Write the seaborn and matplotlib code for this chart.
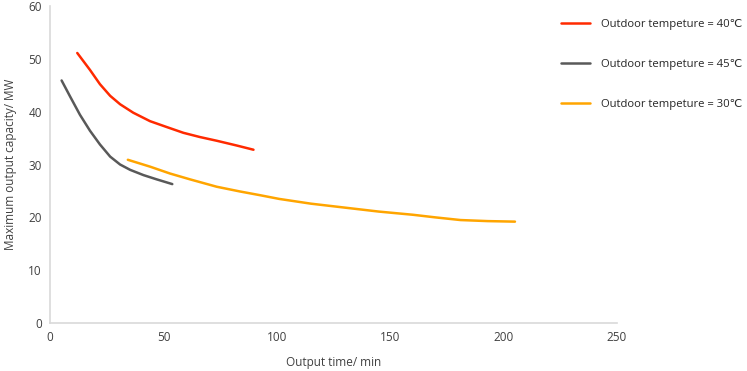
import pandas as pd
import matplotlib
matplotlib.use("Agg")
import matplotlib.pyplot as plt
import seaborn as sns

## Data
t40 = [12.0, 17.6, 22.0, 26.5, 30.9, 36.7, 44.1, 51.4, 58.8, 66.1, 73.5, 82.3, 89.7]
p40 = [51.1, 47.9, 45.2, 43.0, 41.4, 39.8, 38.2, 37.1, 36.0, 35.2, 34.5, 33.6, 32.8]

t45 = [5.1, 8.8, 13.2, 17.6, 22.0, 26.5, 30.9, 35.3, 41.2, 47.0, 53.9]
p45 = [45.9, 42.9, 39.4, 36.4, 33.8, 31.5, 30.0, 29.0, 28.0, 27.2, 26.3]

t30 = [34.3, 44.1, 52.9, 61.7, 73.5, 83.8, 92.6, 101, 115, 131, 145, 160, 170, 181, 187, 193, 205]
p30 = [30.9, 29.6, 28.3, 27.2, 25.8, 24.9, 24.2, 23.5, 22.6, 21.8, 21.1, 20.5, 20.0, 19.5, 19.4, 19.3, 19.2]

labels = ["Outdoor tempeture = 40\u2103",
          "Outdoor tempeture = 45\u2103",
          "Outdoor tempeture = 30\u2103"]
colors = ["#FF2A00", "#595959", "#FFA500"]

## Long-form table for seaborn
df = pd.concat([
    pd.DataFrame({"time": t40, "cap": p40, "series": labels[0]}),
    pd.DataFrame({"time": t45, "cap": p45, "series": labels[1]}),
    pd.DataFrame({"time": t30, "cap": p30, "series": labels[2]}),
], ignore_index=True)

sns.set_style("white")
plt.rcParams['font.family'] = ['Open Sans', 'DejaVu Sans']

fig = plt.figure(figsize=(7.47, 3.71), dpi=100)
ax = fig.add_axes([0.067, 0.129, 0.759, 0.855])

sns.lineplot(data=df, x="time", y="cap", hue="series", hue_order=labels,
             palette=colors, linewidth=1.8, sort=False, ax=ax)
for ln in ax.lines:
    ln.set_solid_joinstyle("round")
    ln.set_solid_capstyle("round")

ax.set_xlim(0, 250)
ax.set_ylim(0, 60)
ax.set_xticks([0, 50, 100, 150, 200, 250])
ax.set_yticks([0, 10, 20, 30, 40, 50, 60])
ax.tick_params(length=0, labelsize=8.5, colors="#404040", pad=6)
ax.set_xlabel("Output time/ min", fontsize=8.5, color="#404040", labelpad=8)
ax.set_ylabel("Maximum output capacity/ MW", fontsize=8.5, color="#404040", labelpad=8)

for s in ["top", "right"]:
    ax.spines[s].set_visible(False)
for s in ["left", "bottom"]:
    ax.spines[s].set_color("#D9D9D9")
    ax.spines[s].set_linewidth(1.2)

## Legend sits to the right, partly over the plot area
handles, lbls = ax.get_legend_handles_labels()
ax.get_legend().remove()
leg = fig.legend(handles, lbls, loc="upper left", bbox_to_anchor=(0.745, 0.962),
                 bbox_transform=fig.transFigure, frameon=False, borderaxespad=0,
                 fontsize=8.1, handlelength=2.6, labelspacing=2.6, handletextpad=0.95)
for txt in leg.get_texts():
    txt.set_color("#262626")

fig.savefig("out.png", dpi=100)
